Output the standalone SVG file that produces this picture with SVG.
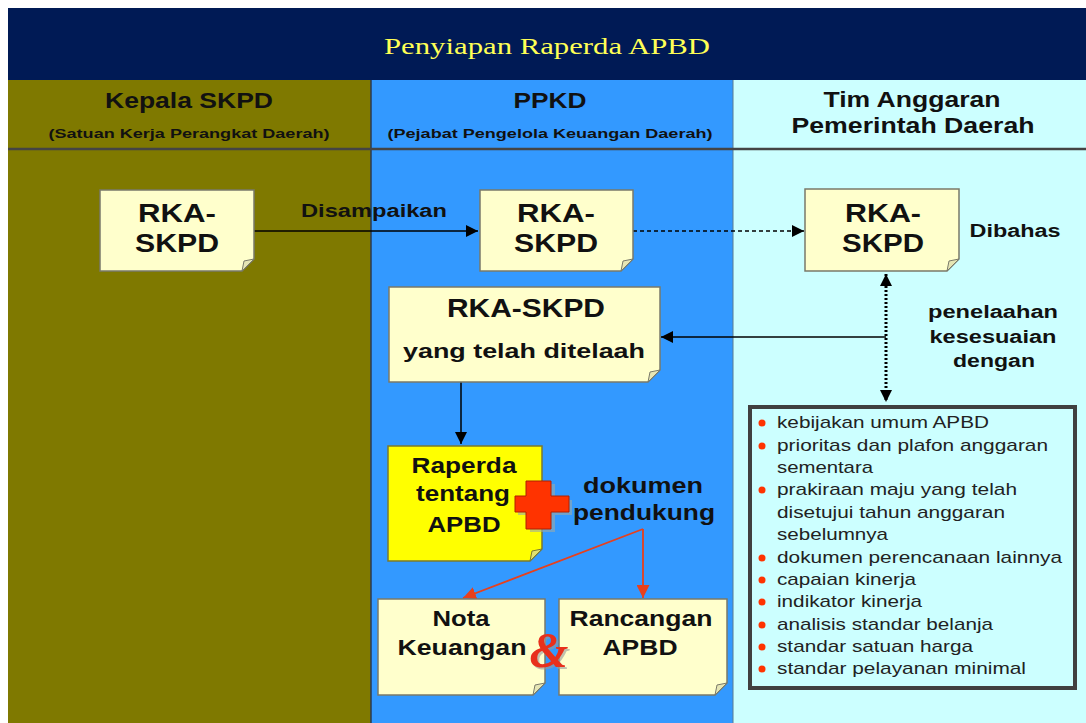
<svg xmlns="http://www.w3.org/2000/svg" width="1086" height="723" viewBox="0 0 1086 723">
<style>
.t{font-family:"Liberation Sans",Arial,sans-serif;font-weight:bold;fill:#111;text-anchor:middle}
.li{font-family:"Liberation Sans",Arial,sans-serif;font-size:17px;fill:#222}
.note{fill:#FFFFCC;stroke:#7a7a6a;stroke-width:1.5}
.fold{fill:#E6E6B4;stroke:#7a7a6a;stroke-width:1}
.b{fill:#FF3300}
</style>
<defs>
<marker id="ah" viewBox="0 0 10 10" refX="10" refY="5" markerWidth="12" markerHeight="12" markerUnits="userSpaceOnUse" orient="auto"><path d="M0,0L10,5L0,10z" fill="#000"/></marker>
<marker id="ahs" viewBox="0 0 10 10" refX="10" refY="5" markerWidth="12" markerHeight="12" markerUnits="userSpaceOnUse" orient="auto-start-reverse"><path d="M0,0L10,5L0,10z" fill="#000"/></marker>
<marker id="ahr" viewBox="0 0 10 10" refX="10" refY="5" markerWidth="13" markerHeight="13" markerUnits="userSpaceOnUse" orient="auto"><path d="M0,0L10,5L0,10z" fill="#E8401C"/></marker>
</defs>
<rect x="0" y="0" width="1086" height="723" fill="#fff"/>
<g id="background">
<rect x="8" y="8" width="1078" height="72" fill="#001A55"/>
<rect x="8" y="80" width="363" height="643" fill="#7F7900"/>
<rect x="371" y="80" width="362" height="643" fill="#3399FF"/>
<rect x="733" y="80" width="353" height="643" fill="#CCFFFF"/>
<line x1="371" y1="80" x2="371" y2="723" stroke="#2a3a55" stroke-width="1.5"/>
<line x1="733" y1="80" x2="733" y2="723" stroke="#5a7a90" stroke-width="1"/>
<line x1="8" y1="149" x2="1086" y2="149" stroke="#444" stroke-width="2.5"/>
<text x="547" y="54" font-family="'Liberation Serif','Times New Roman',serif" font-size="23" fill="#FFFF55" text-anchor="middle" textLength="326" lengthAdjust="spacingAndGlyphs">Penyiapan Raperda APBD</text>
<text class="t" x="189" y="108" font-size="22" textLength="168" lengthAdjust="spacingAndGlyphs">Kepala SKPD</text>
<text class="t" x="189" y="138" font-size="13" textLength="281" lengthAdjust="spacingAndGlyphs">(Satuan Kerja Perangkat Daerah)</text>
<text class="t" x="550" y="108" font-size="22" textLength="73" lengthAdjust="spacingAndGlyphs">PPKD</text>
<text class="t" x="550" y="138" font-size="13" textLength="325" lengthAdjust="spacingAndGlyphs">(Pejabat Pengelola Keuangan Daerah)</text>
<text class="t" x="912" y="107" font-size="22" textLength="177" lengthAdjust="spacingAndGlyphs">Tim Anggaran</text>
<text class="t" x="913" y="133" font-size="22" textLength="243" lengthAdjust="spacingAndGlyphs">Pemerintah Daerah</text>
</g>
<g id="connectors">
<line x1="254" y1="231" x2="478" y2="231" stroke="#000" stroke-width="1.3" marker-end="url(#ah)"/>
<line x1="633" y1="231" x2="804" y2="231" stroke="#000" stroke-width="1.3" stroke-dasharray="4,3" marker-end="url(#ah)"/>
<line x1="886" y1="274" x2="886" y2="402" stroke="#000" stroke-width="3" stroke-dasharray="2,2" marker-start="url(#ahs)" marker-end="url(#ahs)"/>
<line x1="886" y1="337" x2="661" y2="337" stroke="#000" stroke-width="1.3" marker-end="url(#ah)"/>
<line x1="461" y1="382" x2="461" y2="444" stroke="#000" stroke-width="1.5" marker-end="url(#ah)"/>
<polyline points="643,529 463,598" fill="none" stroke="#E8401C" stroke-width="1.8" marker-end="url(#ahr)"/>
<line x1="643" y1="529" x2="643" y2="598" stroke="#E8401C" stroke-width="1.8" marker-end="url(#ahr)"/>
<text class="t" x="374" y="217" font-size="18" textLength="146" lengthAdjust="spacingAndGlyphs">Disampaikan</text>
<text class="t" x="1015" y="237" font-size="18" textLength="91" lengthAdjust="spacingAndGlyphs">Dibahas</text>
<text class="t" x="993" y="318" font-size="18" textLength="130" lengthAdjust="spacingAndGlyphs">penelaahan</text>
<text class="t" x="993" y="343" font-size="18" textLength="127" lengthAdjust="spacingAndGlyphs">kesesuaian</text>
<text class="t" x="994" y="367" font-size="18" textLength="82" lengthAdjust="spacingAndGlyphs">dengan</text>
</g>
<g id="rka-skpd-1">
<path class="note" d="M100,190H254V259L242,271H100Z"/>
<path class="fold" d="M254,259L242,271L244,261Z"/>
<text class="t" x="177" y="222" font-size="26" textLength="78" lengthAdjust="spacingAndGlyphs">RKA-</text>
<text class="t" x="177" y="252" font-size="26" textLength="84" lengthAdjust="spacingAndGlyphs">SKPD</text>
</g>
<g id="rka-skpd-2">
<path class="note" d="M480,190H633V259L621,271H480Z"/>
<path class="fold" d="M633,259L621,271L623,261Z"/>
<text class="t" x="556" y="222" font-size="26" textLength="78" lengthAdjust="spacingAndGlyphs">RKA-</text>
<text class="t" x="556" y="252" font-size="26" textLength="84" lengthAdjust="spacingAndGlyphs">SKPD</text>
</g>
<g id="rka-skpd-3">
<path class="note" d="M805,189H959V259L947,271H805Z"/>
<path class="fold" d="M959,259L947,271L949,261Z"/>
<text class="t" x="883" y="222" font-size="26" textLength="76" lengthAdjust="spacingAndGlyphs">RKA-</text>
<text class="t" x="883" y="252" font-size="26" textLength="82" lengthAdjust="spacingAndGlyphs">SKPD</text>
</g>
<g id="rka-skpd-ditelaah">
<path class="note" d="M389,287H660V370L648,382H389Z"/>
<path class="fold" d="M660,370L648,382L650,372Z"/>
<text class="t" x="526" y="317" font-size="26" textLength="158" lengthAdjust="spacingAndGlyphs">RKA-SKPD</text>
<text class="t" x="524" y="358" font-size="21" textLength="242" lengthAdjust="spacingAndGlyphs">yang telah ditelaah</text>
</g>
<g id="raperda">
<path d="M388,446H542V549L530,561H388Z" fill="#FFFF00" stroke="#7a7a30" stroke-width="1.5"/>
<path d="M542,549L530,561L532,551Z" fill="#E0E070" stroke="#7a7a30" stroke-width="1"/>
<text class="t" x="464" y="473" font-size="22" textLength="105" lengthAdjust="spacingAndGlyphs">Raperda</text>
<text class="t" x="463" y="501" font-size="22" textLength="94" lengthAdjust="spacingAndGlyphs">tentang</text>
<text class="t" x="464" y="532" font-size="22" textLength="73" lengthAdjust="spacingAndGlyphs">APBD</text>
</g>
<g id="plus">
<path d="M530,484H555V500H572V515H555V532H530V515H518V500H530Z" fill="#9aa" opacity="0.6"/>
<path d="M526,481H551V496H569V512H551V529H526V512H515V496H526Z" fill="#FF3300" stroke="#B02000" stroke-width="1"/>
</g>
<g id="dokumen-pendukung">
<text class="t" x="643" y="493" font-size="22" textLength="120" lengthAdjust="spacingAndGlyphs">dokumen</text>
<text class="t" x="644" y="520" font-size="22" textLength="142" lengthAdjust="spacingAndGlyphs">pendukung</text>
</g>
<g id="nota-keuangan">
<path class="note" d="M378,599H545V683L533,695H378Z"/>
<path class="fold" d="M545,683L533,695L535,685Z"/>
<text class="t" x="461" y="626" font-size="22" textLength="57" lengthAdjust="spacingAndGlyphs">Nota</text>
<text class="t" x="462" y="655" font-size="22" textLength="129" lengthAdjust="spacingAndGlyphs">Keuangan</text>
</g>
<g id="rancangan-apbd">
<path class="note" d="M559,599H727V683L715,695H559Z"/>
<path class="fold" d="M727,683L715,695L717,685Z"/>
<text class="t" x="641" y="626" font-size="22" textLength="143" lengthAdjust="spacingAndGlyphs">Rancangan</text>
<text class="t" x="640" y="655" font-size="22" textLength="75" lengthAdjust="spacingAndGlyphs">APBD</text>
</g>
<g id="ampersand">
<text x="551" y="669" font-family="'Liberation Serif','Times New Roman',serif" font-style="italic" font-weight="bold" font-size="50" fill="#999" opacity="0.6" text-anchor="middle">&amp;</text>
<text x="549" y="667" font-family="'Liberation Serif','Times New Roman',serif" font-style="italic" font-weight="bold" font-size="50" fill="#E8301C" text-anchor="middle">&amp;</text>
</g>
<g id="kriteria">
<rect x="750" y="407" width="325" height="281" fill="#CCFFFF" stroke="#404040" stroke-width="4"/>
<circle class="b" cx="762" cy="423" r="3.5"/>
<circle class="b" cx="762" cy="446" r="3.5"/>
<circle class="b" cx="762" cy="490" r="3.5"/>
<circle class="b" cx="762" cy="558" r="3.5"/>
<circle class="b" cx="762" cy="580" r="3.5"/>
<circle class="b" cx="762" cy="602" r="3.5"/>
<circle class="b" cx="762" cy="625" r="3.5"/>
<circle class="b" cx="762" cy="647" r="3.5"/>
<circle class="b" cx="762" cy="669" r="3.5"/>
<text class="li" x="777" y="428" textLength="212" lengthAdjust="spacingAndGlyphs">kebijakan umum APBD</text>
<text class="li" x="777" y="451" textLength="271" lengthAdjust="spacingAndGlyphs">prioritas dan plafon anggaran</text>
<text class="li" x="777" y="473" textLength="96" lengthAdjust="spacingAndGlyphs">sementara</text>
<text class="li" x="777" y="495" textLength="240" lengthAdjust="spacingAndGlyphs">prakiraan maju yang telah</text>
<text class="li" x="777" y="518" textLength="228" lengthAdjust="spacingAndGlyphs">disetujui tahun anggaran</text>
<text class="li" x="777" y="540" textLength="111" lengthAdjust="spacingAndGlyphs">sebelumnya</text>
<text class="li" x="777" y="563" textLength="285" lengthAdjust="spacingAndGlyphs">dokumen perencanaan lainnya</text>
<text class="li" x="777" y="585" textLength="139" lengthAdjust="spacingAndGlyphs">capaian kinerja</text>
<text class="li" x="777" y="607" textLength="145" lengthAdjust="spacingAndGlyphs">indikator kinerja</text>
<text class="li" x="777" y="630" textLength="216" lengthAdjust="spacingAndGlyphs">analisis standar belanja</text>
<text class="li" x="777" y="652" textLength="196" lengthAdjust="spacingAndGlyphs">standar satuan harga</text>
<text class="li" x="777" y="674" textLength="249" lengthAdjust="spacingAndGlyphs">standar pelayanan minimal</text>
</g>
</svg>
